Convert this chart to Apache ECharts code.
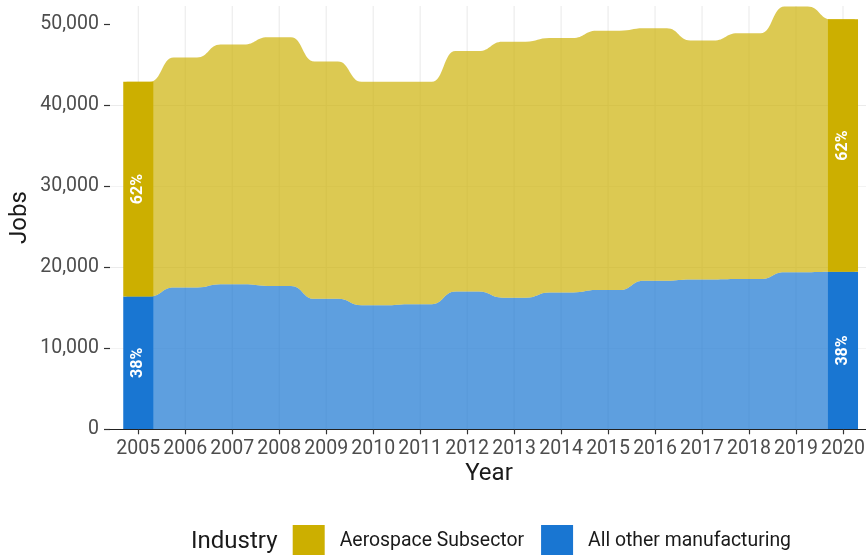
<!DOCTYPE html>
<html><head><meta charset="utf-8">
<script src="https://cdn.jsdelivr.net/npm/echarts@6/dist/echarts.min.js"></script>
<style>html,body{margin:0;padding:0;background:#fff}#c{width:866px;height:555px}</style>
</head><body><div id="c"></div>
<script>
// ---- data ----
const years = [2005,2006,2007,2008,2009,2010,2011,2012,2013,2014,2015,2016,2017,2018,2019,2020];
const aerospace = [26500,28400,29600,30700,29300,27600,27450,29700,31600,31400,32000,31150,29500,30350,32800,31150];
const otherMfg = [16400,17500,17900,17700,16100,15300,15450,17000,16250,16900,17200,18350,18500,18550,19400,19450];
const yTicks = [0,10000,20000,30000,40000,50000];
const barYears = [2005, 2020];
const industries = ['Aerospace Subsector','All other manufacturing'];

// ---- style ----
const FONT = 'Roboto';
const COL_AERO = '#CCAF00', COL_OTHER = '#1976D2';
const AREA_AERO = 'rgba(204,175,0,0.68)', AREA_OTHER = 'rgba(25,118,210,0.7)';
const PLATEAU = 0.25, BAR_W = 0.64;

const totals = years.map((y,i) => aerospace[i] + otherMfg[i]);
const zeros = years.map(() => 0);

function layerPath(api, lower, upper){
  const n = years.length;
  const top = years.map((y,i) => [api.coord([y-PLATEAU, upper[i]]), api.coord([y+PLATEAU, upper[i]])]);
  const bot = years.map((y,i) => [api.coord([y-PLATEAU, lower[i]]), api.coord([y+PLATEAU, lower[i]])]);
  let d = 'M' + top[0][0][0] + ',' + top[0][0][1] + ' L' + top[0][1][0] + ',' + top[0][1][1];
  for (let i = 1; i < n; i++){
    const a = top[i-1][1], b = top[i][0], mx = (a[0]+b[0])/2;
    d += ' C' + mx + ',' + a[1] + ' ' + mx + ',' + b[1] + ' ' + b[0] + ',' + b[1] + ' L' + top[i][1][0] + ',' + top[i][1][1];
  }
  d += ' L' + bot[n-1][1][0] + ',' + bot[n-1][1][1] + ' L' + bot[n-1][0][0] + ',' + bot[n-1][0][1];
  for (let i = n-2; i >= 0; i--){
    const a = bot[i+1][0], b = bot[i][1], mx = (a[0]+b[0])/2;
    d += ' C' + mx + ',' + a[1] + ' ' + mx + ',' + b[1] + ' ' + b[0] + ',' + b[1] + ' L' + bot[i][0][0] + ',' + bot[i][0][1];
  }
  return d + ' Z';
}

function areaSeries(name, lower, upper, fill, color){
  return {
    type: 'custom', name: name, z: 2, silent: true,
    itemStyle: {color: color},
    dimensions: ['year','low','high'], encode: {x: 0, y: 2},
    data: [[years[0], 0, 0]],
    renderItem: function(params, api){
      return {type: 'path', shape: {pathData: layerPath(api, lower, upper)}, style: {fill: fill}};
    }
  };
}

function barSeries(name, lowerArr, upperArr, part, color){
  const data = barYears.map(y => {
    const i = years.indexOf(y);
    return [y, lowerArr[i], upperArr[i], Math.round(part[i] / totals[i] * 100)];
  });
  return {
    type: 'custom', name: name, z: 3, silent: true,
    itemStyle: {color: color},
    dimensions: ['year','low','high','pct'], encode: {x: 0, y: 2},
    data: data,
    renderItem: function(params, api){
      const x = api.value(0), lo = api.value(1), hi = api.value(2);
      const p0 = api.coord([x - BAR_W/2, hi]), p1 = api.coord([x + BAR_W/2, lo]);
      return {type: 'group', children: [
        {type: 'rect', shape: {x: p0[0], y: p0[1], width: p1[0]-p0[0], height: p1[1]-p0[1]}, style: {fill: color}},
        {type: 'text', x: (p0[0]+p1[0])/2, y: (p0[1]+p1[1])/2, rotation: Math.PI/2,
          style: {text: api.value(3) + '%', fill: '#ffffff', fontSize: 16, fontWeight: 'bold', fontFamily: FONT, align: 'center', verticalAlign: 'middle'}}
      ]};
    }
  };
}

const chart = echarts.init(document.getElementById('c'), null, {renderer: 'canvas'});
chart.setOption({
  animation: false,
  backgroundColor: '#ffffff',
  grid: {left: 110, right: 0, top: 6, bottom: 125.7, containLabel: false, outerBoundsMode: 'none'},
  xAxis: {
    type: 'value', min: 2004.398, max: 2020.49, z: 5,
    axisLine: {show: true, onZero: false, lineStyle: {color: '#222', width: 1.2}},
    axisTick: {show: true, customValues: years, length: 5, lineStyle: {color: '#333', width: 1.2}},
    axisLabel: {customValues: years, margin: 10, color: '#4D4D4D', fontSize: 19.5, fontFamily: FONT, formatter: v => String(v)},
    splitLine: {show: false}
  },
  yAxis: {
    type: 'value', min: 0, max: 52250, interval: 5000,
    axisLine: {show: false},
    axisTick: {show: true, customValues: yTicks, length: 6, lineStyle: {color: '#333', width: 1.2}},
    axisLabel: {customValues: yTicks, margin: 11, color: '#4D4D4D', fontSize: 19.5, fontFamily: FONT,
      formatter: v => (v % 10000 === 0 ? v.toLocaleString('en-US') : '')},
    splitLine: {show: true, showMaxLine: false, lineStyle: {color: ['#EBEBEB', '#F3F3F3'], width: 1.1}}
  },
  legend: {
    left: 292.7, top: 525, padding: 0, itemWidth: 32, itemHeight: 32, itemGap: 17, icon: 'rect', selectedMode: false,
    data: [{name: industries[0], itemStyle: {color: COL_AERO}}, {name: industries[1], itemStyle: {color: COL_OTHER}}],
    textStyle: {fontSize: 19.4, color: '#1a1a1a', fontFamily: FONT, padding: [0,0,0,10]}
  },
  graphic: [
    {type: 'text', x: 20, y: 217.5, rotation: Math.PI/2, style: {text: 'Jobs', fontSize: 24, fontFamily: FONT, fill: '#1a1a1a', align: 'center', verticalAlign: 'middle'}},
    {type: 'text', x: 489, y: 473.5, style: {text: 'Year', fontSize: 24, fontFamily: FONT, fill: '#1a1a1a', align: 'center', verticalAlign: 'middle'}},
    {type: 'text', x: 191, y: 542, style: {text: 'Industry', fontSize: 24, fontFamily: FONT, fill: '#1a1a1a', align: 'left', verticalAlign: 'middle'}}
  ],
  series: [
    {
      type: 'custom', name: 'vgrid', z: 1, silent: true,
      dimensions: ['year','v'], encode: {x: 0, y: 1},
      data: years.map(y => [y, 0]),
      renderItem: function(params, api){
        const p = api.coord([api.value(0), 0]);
        const cs = params.coordSys;
        return {type: 'line', shape: {x1: p[0], y1: cs.y, x2: p[0], y2: cs.y + cs.height}, style: {stroke: '#EBEBEB', lineWidth: 1.1}};
      }
    },
    areaSeries(industries[1], zeros, otherMfg, AREA_OTHER, COL_OTHER),
    areaSeries(industries[0], otherMfg, totals, AREA_AERO, COL_AERO),
    barSeries(industries[1], zeros, otherMfg, otherMfg, COL_OTHER),
    barSeries(industries[0], otherMfg, totals, aerospace, COL_AERO)
  ]
});
</script></body></html>
